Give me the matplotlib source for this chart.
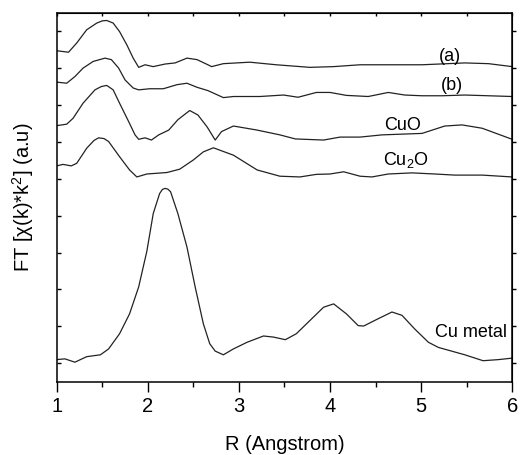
import numpy as np
import matplotlib
matplotlib.use('Agg')
import matplotlib.pyplot as plt

plt.rcParams['font.family'] = ['Liberation Sans', 'DejaVu Sans']
plt.rcParams['mathtext.fontset'] = 'custom'
plt.rcParams['mathtext.rm'] = 'Liberation Sans'
plt.rcParams['mathtext.it'] = 'Liberation Sans:italic'

# values (R in Angstrom, stacked FT magnitude)
r_a = [1.0, 1.13, 1.22, 1.33, 1.44, 1.50, 1.55, 1.62, 1.69, 1.77, 1.84, 1.90, 1.97, 2.06, 2.19,
       2.30, 2.43, 2.54, 2.66, 2.70, 2.83, 3.12, 3.41, 3.78, 4.04, 4.33, 4.64, 5.01,
       5.48, 5.74, 6.0]
ft_a = [8.47, 8.43, 8.68, 9.04, 9.22, 9.28, 9.29, 9.22, 8.99, 8.63, 8.27, 8.02, 8.09, 8.04, 8.11,
        8.14, 8.27, 8.23, 8.09, 8.04, 8.12, 8.16, 8.09, 8.02, 8.04, 8.09, 8.09, 8.09,
        8.14, 8.12, 8.04]

r_b = [1.0, 1.11, 1.20, 1.29, 1.40, 1.53, 1.60, 1.68, 1.75, 1.84, 1.90, 2.02, 2.17, 2.32,
       2.43, 2.54, 2.66, 2.83, 2.94, 3.23, 3.49, 3.65, 3.85, 4.00, 4.18, 4.42, 4.64,
       4.82, 5.01, 5.23, 5.48, 5.74, 6.0]
ft_b = [7.62, 7.59, 7.77, 8.00, 8.18, 8.27, 8.23, 8.00, 7.68, 7.46, 7.41, 7.44, 7.44, 7.55,
        7.59, 7.48, 7.39, 7.20, 7.23, 7.23, 7.27, 7.21, 7.34, 7.34, 7.26, 7.23, 7.34,
        7.27, 7.25, 7.25, 7.27, 7.25, 7.23]

r_cuo = [1.0, 1.11, 1.18, 1.29, 1.42, 1.49, 1.55, 1.62, 1.69, 1.79, 1.86, 1.90, 1.97, 2.04, 2.12,
         2.23, 2.33, 2.46, 2.55, 2.65, 2.74, 2.81, 2.94, 3.20, 3.45, 3.62, 3.93, 4.11,
         4.33, 4.57, 5.01, 5.26, 5.45, 5.67, 6.0]
ft_cuo = [6.44, 6.48, 6.64, 7.05, 7.41, 7.50, 7.53, 7.41, 7.05, 6.55, 6.19, 6.07, 6.11, 6.05, 6.19,
          6.32, 6.60, 6.85, 6.73, 6.41, 6.05, 6.28, 6.43, 6.32, 6.19, 6.08, 6.05, 6.13,
          6.13, 6.19, 6.23, 6.43, 6.46, 6.37, 6.07]

r_cu2o = [1.0, 1.07, 1.16, 1.22, 1.33, 1.41, 1.46, 1.52, 1.57, 1.69, 1.80, 1.88, 1.99, 2.21, 2.35, 2.50,
          2.61, 2.72, 2.94, 3.20, 3.45, 3.67, 3.85, 4.00, 4.15, 4.33, 4.46, 4.64, 4.90,
          5.15, 5.37, 5.67, 6.0]
ft_cu2o = [5.35, 5.39, 5.35, 5.42, 5.83, 6.04, 6.11, 6.09, 6.01, 5.60, 5.24, 5.05, 5.13, 5.17, 5.26, 5.51,
           5.73, 5.84, 5.64, 5.24, 5.07, 5.05, 5.12, 5.13, 5.19, 5.07, 5.05, 5.13, 5.16,
           5.13, 5.10, 5.10, 5.05]

r_cu = [1.0, 1.09, 1.20, 1.33, 1.48, 1.57, 1.69, 1.80, 1.90, 1.99, 2.06, 2.13, 2.16, 2.19, 2.22, 2.25,
        2.33, 2.43, 2.52, 2.61, 2.68, 2.74, 2.83, 2.94, 3.09, 3.27, 3.38, 3.51, 3.63,
        3.78, 3.93, 4.04, 4.18, 4.31, 4.37, 4.49, 4.68, 4.79, 4.93, 5.08, 5.19, 5.48,
        5.68, 5.85, 6.0]
ft_cu = [0.10, 0.12, 0.03, 0.18, 0.23, 0.39, 0.80, 1.34, 2.07, 3.04, 4.06, 4.60, 4.71, 4.74, 4.72, 4.65,
         4.06, 3.15, 2.07, 1.07, 0.53, 0.33, 0.23, 0.39, 0.57, 0.74, 0.71, 0.64, 0.80,
         1.16, 1.52, 1.61, 1.34, 1.02, 1.01, 1.16, 1.39, 1.30, 0.93, 0.57, 0.43, 0.23,
         0.07, 0.10, 0.14]

fig = plt.figure(figsize=(5.2, 4.55), dpi=100)
ax = fig.add_axes([0.109, 0.161, 0.876, 0.811])

for r, ft in [(r_a, ft_a), (r_b, ft_b), (r_cuo, ft_cuo), (r_cu2o, ft_cu2o), (r_cu, ft_cu)]:
    ax.plot(r, ft, color='#222222', linewidth=0.9)

ax.text(5.32, 8.18, '(a)', fontsize=13, ha='center', va='baseline')
ax.text(5.34, 7.41, '(b)', fontsize=13, ha='center', va='baseline')
ax.text(4.80, 6.33, 'CuO', fontsize=13, ha='center', va='baseline')
ax.text(4.83, 5.37, 'Cu$_2$O', fontsize=13, ha='center', va='baseline')
ax.text(5.94, 0.71, 'Cu metal', fontsize=13, ha='right', va='baseline')

ax.set_xlim(1, 6)
ax.set_ylim(-0.5, 9.5)
ax.set_xticks(np.arange(1, 7, 1))
ax.set_xticks(np.arange(1.5, 6, 1), minor=True)
ax.set_yticks(np.arange(0, 10, 1))
ax.tick_params(axis='x', which='major', direction='out', length=7, width=1,
               labelsize=14.5, pad=4, top=False)
ax.tick_params(axis='x', which='minor', direction='out', length=3.5, width=1, top=False)
ax.tick_params(axis='y', which='major', direction='in', length=3, width=1,
               labelleft=False, right=False)

ax_top = ax.secondary_xaxis('top')
ax_top.set_xticks(np.arange(1, 6.01, 0.5))
ax_top.tick_params(direction='in', length=2, width=1, labeltop=False)
ax_right = ax.secondary_yaxis('right')
ax_right.set_yticks(np.arange(0, 10, 1))
ax_right.tick_params(direction='out', length=3, width=1, labelright=False)

for s in ax.spines.values():
    s.set_linewidth(1.1)

ax.set_xlabel('R (Angstrom)', fontsize=14.5)
ax.xaxis.set_label_coords(0.5, -0.145)
ax.set_ylabel('FT [χ(k)*k$^2$] (a.u)', fontsize=14.5)
ax.yaxis.set_label_coords(-0.045, 0.5)

fig.savefig('out.png', dpi=100)
